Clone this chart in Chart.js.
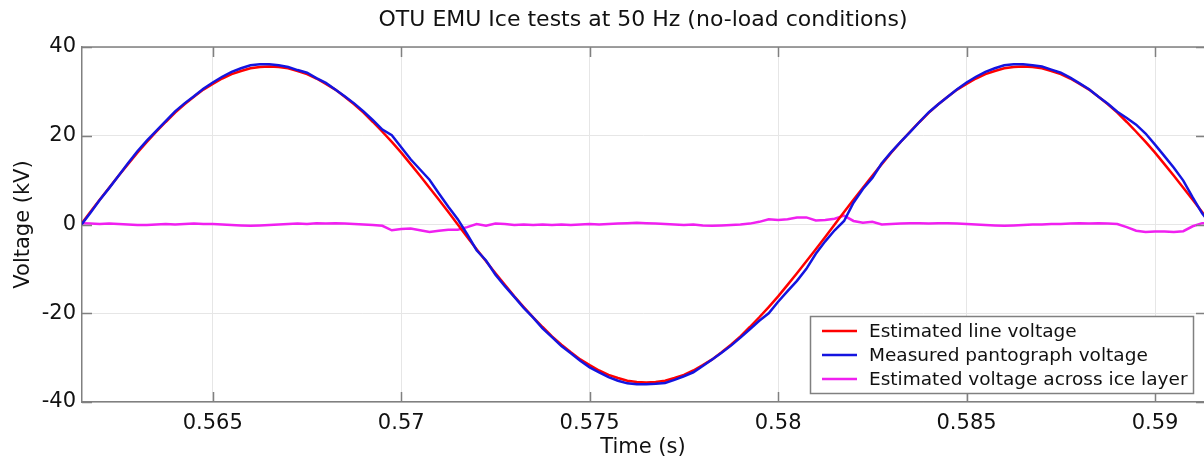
<!DOCTYPE html>
<html>
<head>
<meta charset="utf-8">
<title>OTU EMU Ice tests at 50 Hz</title>
<script src="https://cdn.jsdelivr.net/npm/chart.js@4.4.1/dist/chart.umd.min.js"></script>
<style>
  html, body { margin: 0; padding: 0; background: #fff; }
  #chart { display: block; }
</style>
</head>
<body>
<canvas id="chart" width="1204" height="463"></canvas>
<script>
// Time samples (s), read every 0.25 ms
const timeS = [
    0.5615, 0.56175, 0.562, 0.56225, 0.5625, 0.56275, 0.563, 0.56325, 0.5635, 0.56375,
    0.564, 0.56425, 0.5645, 0.56475, 0.565, 0.56525, 0.5655, 0.56575, 0.566, 0.56625,
    0.5665, 0.56675, 0.567, 0.56725, 0.5675, 0.56775, 0.568, 0.56825, 0.5685, 0.56875,
    0.569, 0.56925, 0.5695, 0.56975, 0.57, 0.57025, 0.5705, 0.57075, 0.571, 0.57125,
    0.5715, 0.57175, 0.572, 0.57225, 0.5725, 0.57275, 0.573, 0.57325, 0.5735, 0.57375,
    0.574, 0.57425, 0.5745, 0.57475, 0.575, 0.57525, 0.5755, 0.57575, 0.576, 0.57625,
    0.5765, 0.57675, 0.577, 0.57725, 0.5775, 0.57775, 0.578, 0.57825, 0.5785, 0.57875,
    0.579, 0.57925, 0.5795, 0.57975, 0.58, 0.58025, 0.5805, 0.58075, 0.581, 0.58125,
    0.5815, 0.58175, 0.582, 0.58225, 0.5825, 0.58275, 0.583, 0.58325, 0.5835, 0.58375,
    0.584, 0.58425, 0.5845, 0.58475, 0.585, 0.58525, 0.5855, 0.58575, 0.586, 0.58625,
    0.5865, 0.58675, 0.587, 0.58725, 0.5875, 0.58775, 0.588, 0.58825, 0.5885, 0.58875,
    0.589, 0.58925, 0.5895, 0.58975, 0.59, 0.59025, 0.5905, 0.59075, 0.591, 0.59125,
    0.5915
];

// Estimated line voltage (kV)
const lineVoltage = [
    0, 2.8, 5.6, 8.3, 11.0, 13.6, 16.2, 18.6, 20.9, 23.1,
    25.2, 27.1, 28.8, 30.4, 31.7, 32.9, 33.9, 34.6, 35.2, 35.5,
    35.6, 35.5, 35.2, 34.6, 33.9, 32.9, 31.7, 30.4, 28.8, 27.1,
    25.2, 23.1, 20.9, 18.6, 16.2, 13.6, 11.0, 8.3, 5.6, 2.8,
    0, -2.8, -5.6, -8.3, -11.0, -13.6, -16.2, -18.6, -20.9, -23.1,
    -25.2, -27.1, -28.8, -30.4, -31.7, -32.9, -33.9, -34.6, -35.2, -35.5,
    -35.6, -35.5, -35.2, -34.6, -33.9, -32.9, -31.7, -30.4, -28.8, -27.1,
    -25.2, -23.1, -20.9, -18.6, -16.2, -13.6, -11.0, -8.3, -5.6, -2.8,
    0, 2.8, 5.6, 8.3, 11.0, 13.6, 16.2, 18.6, 20.9, 23.1,
    25.2, 27.1, 28.8, 30.4, 31.7, 32.9, 33.9, 34.6, 35.2, 35.5,
    35.6, 35.5, 35.2, 34.6, 33.9, 32.9, 31.7, 30.4, 28.8, 27.1,
    25.2, 23.1, 20.9, 18.6, 16.2, 13.6, 11.0, 8.3, 5.6, 2.8,
    0
];

// Measured pantograph voltage (kV)
const pantographVoltage = [
    -0.2, 2.6, 5.5, 8.2, 11.0, 13.8, 16.5, 18.9, 21.1, 23.3,
    25.5, 27.3, 28.9, 30.6, 32.0, 33.3, 34.4, 35.2, 35.9, 36.1,
    36.1, 35.9, 35.5, 34.8, 34.2, 33.0, 31.9, 30.4, 28.9, 27.3,
    25.5, 23.5, 21.4, 20.1, 17.4, 14.7, 12.4, 10.1, 7.0, 4.0,
    1.2, -2.2, -5.8, -8.1, -11.3, -13.9, -16.3, -18.8, -21.0, -23.4,
    -25.4, -27.4, -29.0, -30.7, -32.2, -33.3, -34.4, -35.2, -35.8, -36.0,
    -36.0, -35.9, -35.7, -35.0, -34.2, -33.3, -31.9, -30.4, -28.9, -27.3,
    -25.5, -23.6, -21.7, -20.0, -17.4, -15.0, -12.7, -10.0, -6.6, -3.8,
    -1.3, 0.8, 4.9, 8.0, 10.5, 13.8, 16.3, 18.6, 20.8, 23.1,
    25.3, 27.1, 28.8, 30.5, 32.0, 33.3, 34.4, 35.2, 35.9, 36.1,
    36.1, 35.9, 35.6, 34.9, 34.2, 33.1, 31.8, 30.5, 28.8, 27.2,
    25.4, 24.0, 22.5, 20.5, 18.0, 15.4, 12.8, 9.9, 6.1, 2.5,
    -0.1
];

// Estimated voltage across ice layer (kV)
const iceVoltage = [
    0.3, 0.2, 0.1, 0.2, 0.1, 0.0, -0.1, -0.1, 0.0, 0.1,
    0.0, 0.1, 0.2, 0.1, 0.1, 0.0, -0.1, -0.2, -0.3, -0.2,
    -0.1, 0.0, 0.1, 0.2, 0.1, 0.3, 0.2, 0.3, 0.2, 0.1,
    0.0, -0.1, -0.3, -1.3, -1.0, -0.9, -1.3, -1.7, -1.4, -1.2,
    -1.2, -0.6, 0.1, -0.3, 0.2, 0.1, -0.1, 0.0, -0.1, 0.0,
    -0.1, 0.0, -0.1, 0.0, 0.1, 0.0, 0.1, 0.2, 0.3, 0.4,
    0.3, 0.2, 0.1, 0.0, -0.1, 0.0, -0.2, -0.3, -0.2, -0.1,
    0.0, 0.2, 0.6, 1.2, 1.0, 1.2, 1.6, 1.6, 0.9, 1.0,
    1.3, 2.0, 0.8, 0.4, 0.6, 0.0, 0.1, 0.2, 0.3, 0.3,
    0.2, 0.3, 0.3, 0.2, 0.1, 0.0, -0.1, -0.2, -0.3, -0.2,
    -0.1, 0.0, 0.0, 0.1, 0.1, 0.2, 0.3, 0.2, 0.3, 0.2,
    0.1, -0.6, -1.4, -1.7, -1.6, -1.6, -1.7, -1.5, -0.4, 0.3,
    0.1
];

const seriesLabels = ['Estimated line voltage', 'Measured pantograph voltage', 'Estimated voltage across ice layer'];
const seriesColors = ['#ff0000', '#1414e0', '#f020f0'];
const xTicks = [0.565, 0.57, 0.575, 0.58, 0.585, 0.59];
const yTicks = [-40, -20, 0, 20, 40];

const FONT = 'DejaVu Sans';
const TEXT = '#111111';
const FRAME = '#808080';

Chart.defaults.font.family = FONT;

function toPoints(values) {
    return values.map((v, i) => ({ x: timeS[i], y: v }));
}

// Inner tick marks, top frame line and the boxed legend (MATLAB look)
const framePlugin = {
    id: 'frame',
    afterDraw(chart) {
        const { ctx, chartArea: a, scales } = chart;
        ctx.save();
        ctx.strokeStyle = FRAME;
        ctx.lineWidth = 1.5;
        ctx.beginPath();
        ctx.moveTo(a.left, a.top);
        ctx.lineTo(a.right, a.top);
        xTicks.forEach(v => {
            const px = Math.round(scales.x.getPixelForValue(v)) + 0.5;
            ctx.moveTo(px, a.top);
            ctx.lineTo(px, a.top + 10);
            ctx.moveTo(px, a.bottom);
            ctx.lineTo(px, a.bottom - 10);
        });
        yTicks.forEach(v => {
            const py = Math.round(scales.y.getPixelForValue(v)) + 0.5;
            ctx.moveTo(a.left, py);
            ctx.lineTo(a.left + 10, py);
            ctx.moveTo(a.right, py);
            ctx.lineTo(a.right - 8, py);
        });
        ctx.stroke();

        // legend box
        const box = { x: 810.5, y: 316.5, w: 383, h: 77 };
        ctx.fillStyle = '#ffffff';
        ctx.fillRect(box.x, box.y, box.w, box.h);
        ctx.strokeRect(box.x, box.y, box.w, box.h);
        ctx.font = '18.5px "' + FONT + '"';
        ctx.textBaseline = 'middle';
        ctx.textAlign = 'left';
        const rows = [331, 355, 379];
        seriesLabels.forEach((label, i) => {
            ctx.strokeStyle = seriesColors[i];
            ctx.lineWidth = 2.5;
            ctx.beginPath();
            ctx.moveTo(822, rows[i]);
            ctx.lineTo(857, rows[i]);
            ctx.stroke();
            ctx.fillStyle = TEXT;
            ctx.fillText(label, 869, rows[i] + 1);
        });
        ctx.restore();
    }
};

new Chart(document.getElementById('chart'), {
    type: 'line',
    data: {
        datasets: [
            {
                label: seriesLabels[0],
                data: toPoints(lineVoltage),
                borderColor: seriesColors[0],
                borderWidth: 2.5,
                pointRadius: 0,
                tension: 0,
                order: 1
            },
            {
                label: seriesLabels[1],
                data: toPoints(pantographVoltage),
                borderColor: seriesColors[1],
                borderWidth: 2.5,
                pointRadius: 0,
                tension: 0,
                order: 0
            },
            {
                label: seriesLabels[2],
                data: toPoints(iceVoltage),
                borderColor: seriesColors[2],
                borderWidth: 2.5,
                pointRadius: 0,
                tension: 0,
                order: 2
            }
        ]
    },
    options: {
        responsive: false,
        animation: false,
        devicePixelRatio: 1,
        layout: { padding: 0 },
        plugins: {
            legend: { display: false },
            tooltip: { enabled: false },
            title: {
                display: true,
                fullSize: false,
                text: 'OTU EMU Ice tests at 50 Hz (no-load conditions)',
                color: TEXT,
                font: { family: FONT, size: 22, weight: 'normal' },
                padding: { top: 7, bottom: 13.6 }
            }
        },
        scales: {
            x: {
                type: 'linear',
                min: 0.56153,
                max: 0.5913,
                afterBuildTicks: scale => { scale.ticks = xTicks.map(v => ({ value: v })); },
                afterFit: scale => { scale.height = 61; },
                grid: { color: '#e6e6e6', drawTicks: false },
                border: { color: FRAME, width: 1.5 },
                ticks: {
                    color: TEXT,
                    font: { size: 21 },
                    padding: 9,
                    maxRotation: 0,
                    autoSkip: false,
                    callback: v => String(v)
                },
                title: {
                    display: true,
                    text: 'Time (s)',
                    color: TEXT,
                    font: { size: 21 },
                    padding: { top: 0, bottom: 2.4 }
                }
            },
            y: {
                min: -40,
                max: 40,
                afterBuildTicks: scale => { scale.ticks = yTicks.map(v => ({ value: v })); },
                afterFit: scale => { scale.width = 82; },
                grid: { color: '#e6e6e6', drawTicks: false },
                border: { color: FRAME, width: 1.5 },
                ticks: {
                    color: TEXT,
                    font: { size: 21 },
                    padding: 6
                },
                title: {
                    display: true,
                    text: 'Voltage (kV)',
                    color: TEXT,
                    font: { size: 21 },
                    padding: { top: 11.4, bottom: 0 }
                }
            }
        }
    },
    plugins: [framePlugin]
});
</script>
</body>
</html>
